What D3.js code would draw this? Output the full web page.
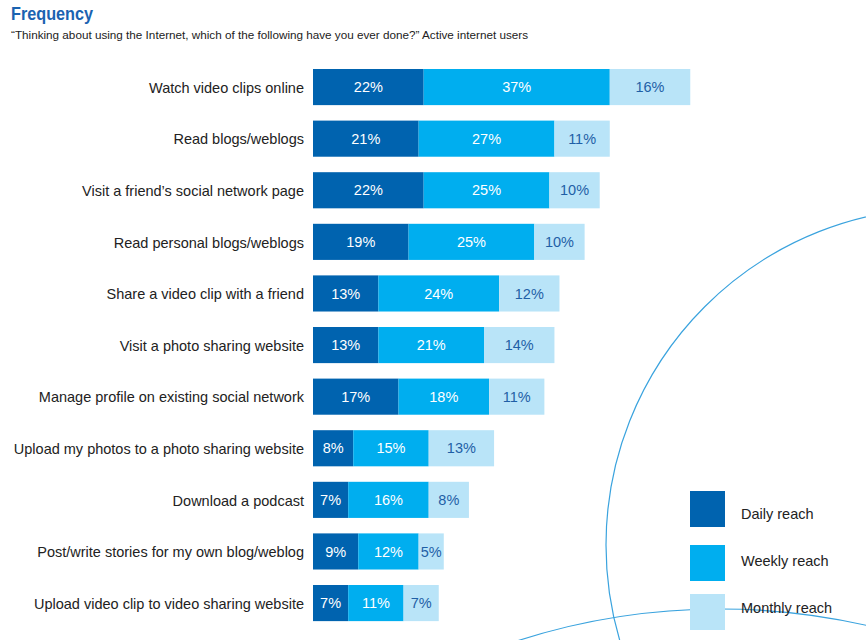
<!DOCTYPE html>
<html>
<head>
<meta charset="utf-8">
<script src="https://cdn.jsdelivr.net/npm/d3@7"></script>
<style>
  html, body { margin: 0; padding: 0; background: #fff; }
  svg { display: block; font-family: "Liberation Sans", Arial, sans-serif; }
</style>
</head>
<body>
<svg id="chart" width="866" height="640"></svg>
<script>
const titleText = "Frequency";
const subtitleText = "\u201CThinking about using the Internet, which of the following have you ever done?\u201D Active internet users";
const categories = [
  "Watch video clips online",
  "Read blogs/weblogs",
  "Visit a friend\u2019s social network page",
  "Read personal blogs/weblogs",
  "Share a video clip with a friend",
  "Visit a photo sharing website",
  "Manage profile on existing social network",
  "Upload my photos to a photo sharing website",
  "Download a podcast",
  "Post/write stories for my own blog/weblog",
  "Upload video clip to video sharing website"
];
const daily   = [22, 21, 22, 19, 13, 13, 17, 8, 7, 9, 7];
const weekly  = [37, 27, 25, 25, 24, 21, 18, 15, 16, 12, 11];
const monthly = [16, 11, 10, 10, 12, 14, 11, 13, 8, 5, 7];
const seriesNames = ["Daily reach", "Weekly reach", "Monthly reach"];
const seriesKeys = ["daily", "weekly", "monthly"];
const colors = ["#0063af", "#00aeef", "#b9e4f8"];
const textColors = ["#ffffff", "#ffffff", "#1f5fa6"];

const rows = categories.map((c, i) => ({ cat: c, daily: daily[i], weekly: weekly[i], monthly: monthly[i] }));

const svg = d3.select("#chart");

// decorative circles
svg.append("circle").attr("cx", 943).attr("cy", 545).attr("r", 337)
  .attr("fill", "none").attr("stroke", "#3aa3de").attr("stroke-width", 1.2);
svg.append("circle").attr("cx", 720).attr("cy", 1269).attr("r", 660)
  .attr("fill", "none").attr("stroke", "#3aa3de").attr("stroke-width", 1.2);

// title
svg.append("text").attr("x", 11).attr("y", 20)
  .attr("font-size", 18).attr("font-weight", "bold").attr("fill", "#1a63b1")
  .attr("textLength", 82).attr("lengthAdjust", "spacingAndGlyphs")
  .text(titleText);
svg.append("text").attr("x", 11).attr("y", 39)
  .attr("font-size", 11).attr("fill", "#222")
  .attr("textLength", 517).attr("lengthAdjust", "spacingAndGlyphs")
  .text(subtitleText);

const x = d3.scaleLinear().domain([0, 100]).range([313, 816]);
const step = 51.6;
const y = d3.scaleBand().domain(categories)
  .range([69 - step * 0.15, 69 - step * 0.15 + step * categories.length])
  .paddingInner(0.30).paddingOuter(0.15);

const stack = d3.stack().keys(seriesKeys)(rows);

const g = svg.append("g");
stack.forEach((layer, li) => {
  const lg = g.append("g");
  lg.selectAll("rect").data(layer).join("rect")
    .attr("x", d => x(d[0]))
    .attr("y", d => y(d.data.cat))
    .attr("width", d => x(d[1]) - x(d[0]))
    .attr("height", y.bandwidth())
    .attr("fill", colors[li]);
  lg.selectAll("text").data(layer).join("text")
    .attr("x", d => (x(d[0]) + x(d[1])) / 2)
    .attr("y", d => y(d.data.cat) + y.bandwidth() / 2)
    .attr("dy", "0.36em")
    .attr("text-anchor", "middle")
    .attr("font-size", 14.5)
    .attr("fill", textColors[li])
    .text(d => (d[1] - d[0]) + "%");
});

// category labels
svg.append("g").selectAll("text").data(categories).join("text")
  .attr("x", 304)
  .attr("y", d => y(d) + y.bandwidth() / 2)
  .attr("dy", "0.4em")
  .attr("text-anchor", "end")
  .attr("font-size", 14.5)
  .attr("fill", "#222")
  .text(d => d);

// legend
const legY = [491, 545, 594];
const legTextY = [514, 561, 608];
const lg = svg.append("g");
seriesNames.forEach((n, i) => {
  lg.append("rect").attr("x", 690).attr("y", legY[i]).attr("width", 35).attr("height", 36).attr("fill", colors[i]);
  lg.append("text").attr("x", 741).attr("y", legTextY[i])
    .attr("dy", "0.36em").attr("font-size", 14.5).attr("fill", "#222").text(n);
});
</script>
</body>
</html>
